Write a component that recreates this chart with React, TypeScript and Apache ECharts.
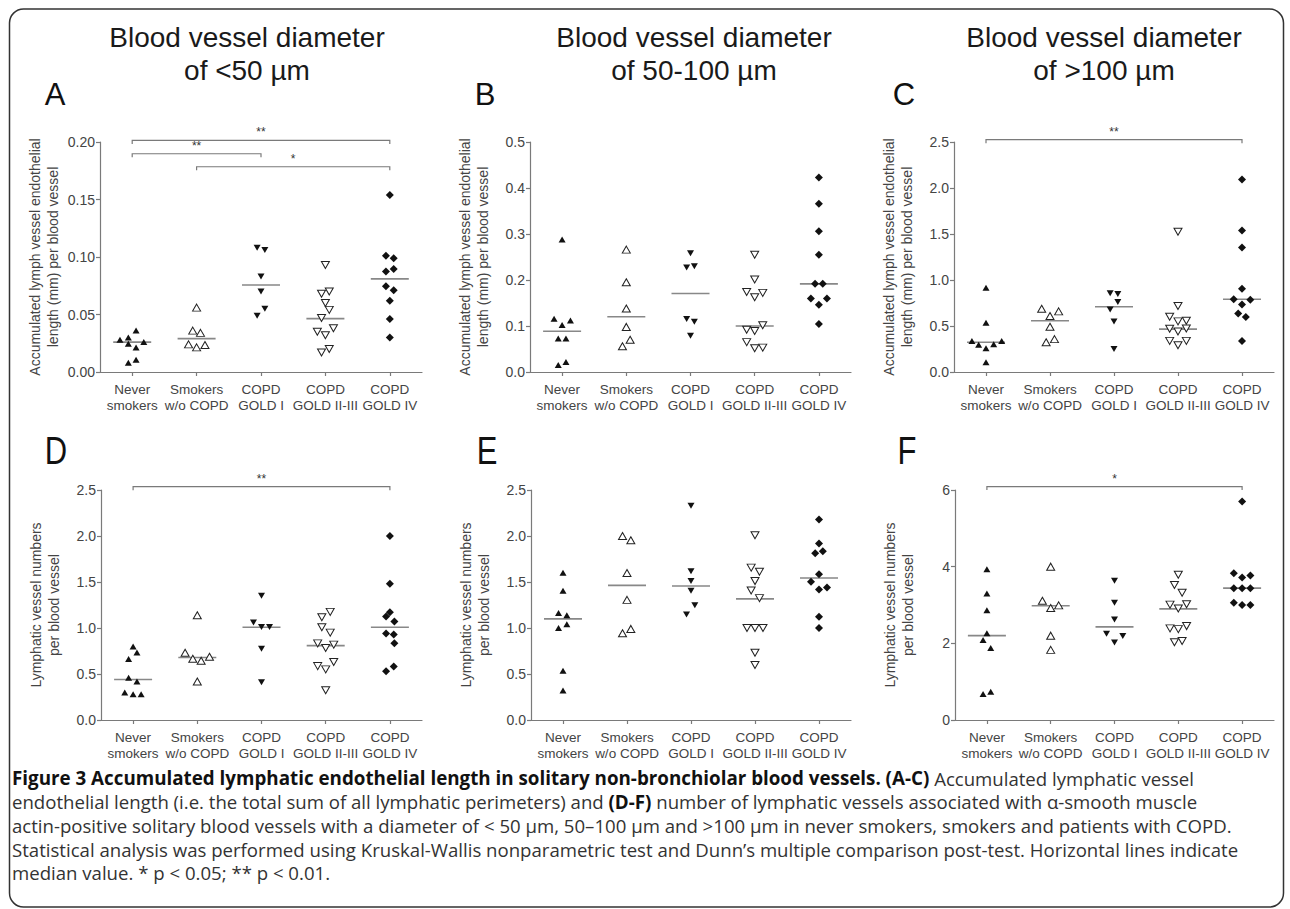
import React, { useEffect, useRef } from "react";
import * as echarts from "echarts";

// ---------- text ----------
const categories = ["Never\nsmokers", "Smokers\nw/o COPD", "COPD\nGOLD I", "COPD\nGOLD II-III", "COPD\nGOLD IV"];
const titleLine1 = "Blood vessel diameter";
const titleLine2 = ["of <50 µm", "of 50-100 µm", "of >100 µm"];
const panelLetters = ["A", "B", "C", "D", "E", "F"];
const yNameTop = ["Accumulated lymph vessel endothelial", "length (mm) per blood vessel"];
const yNameBottom = ["Lymphatic vessel numbers", "per blood vessel"];

// ---------- Panel A (<50 µm, length) ----------
const aValues = [
  [0.036, 0.030, 0.028, 0.0246, 0.026, 0.0214, 0.008, 0.0107],
  [0.056, 0.036, 0.034, 0.024, 0.0214, 0.0235],
  [0.108, 0.106, 0.083, 0.070, 0.055, 0.049],
  [0.093, 0.068, 0.070, 0.060, 0.054, 0.047, 0.035, 0.032, 0.038, 0.017, 0.020],
  [0.154, 0.101, 0.099, 0.0875, 0.0896, 0.0745, 0.071, 0.062, 0.046, 0.030],
];
const aJitter = [
  [0.06, -0.06, -0.19, -0.06, 0.18, 0.06, -0.06, 0.06],
  [0, -0.06, 0.06, -0.125, 0, 0.13],
  [-0.06, 0.06, 0, 0, 0.06, -0.06],
  [0, -0.06, 0.06, 0, 0.06, -0.06, -0.125, 0, 0.125, -0.06, 0.06],
  [0, -0.06, 0.06, -0.06, 0.06, -0.06, 0.06, 0, 0, 0],
];
const aMedians = [0.026, 0.029, 0.0757, 0.0464, 0.081];
const aBrackets = [[0, 4, 0.2014], [0, 2, 0.1898], [1, 4, 0.1785]];
const aStars = ["**", "**", "*"];

// ---------- Panel B (50-100 µm, length) ----------
const bValues = [
  [0.288, 0.116, 0.112, 0.102, 0.073, 0.073, 0.015, 0.022],
  [0.266, 0.195, 0.138, 0.098, 0.070, 0.056],
  [0.258, 0.227, 0.230, 0.115, 0.109, 0.079],
  [0.255, 0.201, 0.174, 0.1625, 0.172, 0.092, 0.089, 0.1016, 0.065, 0.0515, 0.053],
  [0.423, 0.366, 0.306, 0.255, 0.192, 0.192, 0.160, 0.160, 0.146, 0.1045],
];
const bJitter = [
  [0, -0.125, 0.13, 0, -0.06, 0.06, -0.06, 0.06],
  [0, 0, 0, 0, 0.06, -0.06],
  [0, -0.06, 0.06, -0.06, 0.06, 0],
  [0, 0, -0.125, 0, 0.125, -0.125, 0, 0.125, -0.125, 0, 0.125],
  [0, 0, 0, 0, -0.06, 0.06, -0.125, 0.125, 0, 0],
];
const bMedians = [0.0885, 0.12, 0.1705, 0.1, 0.1916];
const bBrackets: number[][] = [];
const bStars: string[] = [];

// ---------- Panel C (>100 µm, length) ----------
const cValues = [
  [0.917, 0.535, 0.338, 0.295, 0.258, 0.302, 0.338, 0.1055],
  [0.688, 0.608, 0.659, 0.491, 0.324, 0.357],
  [0.855, 0.848, 0.76, 0.68, 0.55, 0.251],
  [1.525, 0.717, 0.60, 0.55, 0.557, 0.47, 0.44, 0.473, 0.338, 0.291, 0.338],
  [2.092, 1.539, 1.354, 0.906, 0.79, 0.735, 0.786, 0.637, 0.597, 0.338],
];
const cJitter = [
  [0, 0, -0.22, -0.115, 0, 0.12, 0.245, 0],
  [-0.13, 0, 0.135, 0, -0.06, 0.07],
  [-0.06, 0.06, 0.06, -0.06, 0, 0],
  [0, 0, -0.13, 0, 0.13, -0.13, 0, 0.13, -0.13, 0, 0.13],
  [0, 0, 0, 0, -0.13, 0, 0.13, -0.06, 0.06, 0],
];
const cMedians = [0.324, 0.557, 0.71, 0.466, 0.79];
const cBrackets = [[0, 4, 2.525]];
const cStars = ["**"];

// ---------- Panel D (<50 µm, numbers) ----------
const dValues = [
  [0.80, 0.734, 0.662, 0.459, 0.418, 0.298, 0.28, 0.28],
  [1.139, 0.731, 0.666, 0.644, 0.688, 0.418],
  [1.35, 1.06, 1.01, 1.01, 0.775, 0.411],
  [1.175, 1.117, 1.008, 0.95, 0.833, 0.782, 0.819, 0.586, 0.55, 0.63, 0.324],
  [2.0, 1.48, 1.172, 1.125, 1.07, 0.94, 0.93, 0.833, 0.531, 0.582],
];
const dJitter = [
  [0, 0.06, -0.07, -0.07, 0.06, -0.13, 0, 0.125],
  [0, -0.19, -0.07, 0.06, 0.19, 0],
  [0, -0.125, 0, 0.125, 0, 0],
  [0.07, -0.06, -0.06, 0.07, -0.125, 0, 0.125, -0.125, 0, 0.125, 0],
  [0, 0, 0, -0.06, 0.07, -0.06, 0.06, 0.07, -0.06, 0.06],
];
const dMedians = [0.44, 0.68, 1.008, 0.808, 1.008];
const dBrackets = [[0, 4, 2.536]];
const dStars = ["**"];

// ---------- Panel E (50-100 µm, numbers) ----------
const eValues = [
  [1.601, 1.405, 1.164, 1.139, 1.0, 1.04, 0.535, 0.32],
  [2.0, 1.954, 1.598, 1.306, 0.943, 0.99],
  [2.329, 1.616, 1.51, 1.405, 1.248, 1.146],
  [2.009, 1.656, 1.612, 1.51, 1.408, 1.325, 1.0, 1.0, 1.0, 0.731, 0.597],
  [2.18, 1.918, 1.812, 1.834, 1.583, 1.503, 1.419, 1.441, 1.121, 1.0],
];
const eJitter = [
  [0, 0, -0.07, 0.06, -0.07, 0.06, 0, 0],
  [-0.07, 0.06, 0, 0, -0.07, 0.06],
  [0, 0, 0, 0, 0.06, -0.07],
  [0, -0.06, 0.07, 0, -0.06, 0.07, -0.125, 0, 0.125, 0, 0],
  [0, 0, -0.06, 0.06, 0, -0.125, 0, 0.125, 0, 0],
];
const eMedians = [1.099, 1.463, 1.456, 1.317, 1.543];
const eBrackets: number[][] = [];
const eStars: string[] = [];

// ---------- Panel F (>100 µm, numbers) ----------
const fValues = [
  [3.93, 3.30, 2.86, 2.26, 2.09, 1.88, 0.68, 0.74],
  [4.0, 3.11, 2.92, 2.99, 2.2, 1.83],
  [3.63, 3.06, 2.62, 2.25, 2.19, 2.02],
  [3.79, 3.52, 3.32, 3.01, 2.91, 3.02, 2.39, 2.37, 2.45, 2.03, 2.06],
  [5.7, 3.83, 3.72, 3.77, 3.44, 3.44, 3.44, 3.06, 3.0, 3.0],
];
const fJitter = [
  [0, 0, 0, 0, -0.06, 0.06, -0.06, 0.06],
  [0, -0.13, 0, 0.125, 0, 0],
  [0, 0, 0, -0.125, 0.13, 0],
  [0, -0.06, 0.06, -0.13, 0, 0.13, -0.13, 0, 0.13, -0.06, 0.06],
  [0, -0.13, 0, 0.13, -0.13, 0, 0.13, -0.13, 0, 0.13],
];
const fMedians = [2.2, 2.98, 2.43, 2.9, 3.44];
const fBrackets = [[0, 4, 6.09]];
const fStars = ["*"];

// ---------- axis scales ----------
const yMax = [0.2, 0.5, 2.5, 2.5, 2.5, 6];
const yInterval = [0.05, 0.1, 0.5, 0.5, 0.5, 2];
const yDecimals = [2, 1, 1, 1, 1, 0];

// ---------- caption ----------
const captionLines = [
  "{b|Figure 3 Accumulated lymphatic endothelial length in solitary non-bronchiolar blood vessels. (A-C)}{n| Accumulated lymphatic vessel}",
  "{n|endothelial length (i.e. the total sum of all lymphatic perimeters) and }{b|(D-F)}{n| number of lymphatic vessels associated with α-smooth muscle}",
  "{n|actin-positive solitary blood vessels with a diameter of < 50 µm, 50–100 µm and >100 µm in never smokers, smokers and patients with COPD.}",
  "{n|Statistical analysis was performed using Kruskal-Wallis nonparametric test and Dunn’s multiple comparison post-test. Horizontal lines indicate}",
  "{n|median value. * p < 0.05; ** p < 0.01.}",
];

// ---------- layout (styling only) ----------
const gridBoxes = [
  { left: 100, top: 142, width: 322, height: 230 },
  { left: 530, top: 142, width: 321, height: 230 },
  { left: 954, top: 142, width: 320, height: 230 },
  { left: 101, top: 490, width: 321, height: 230 },
  { left: 531, top: 490, width: 320, height: 230 },
  { left: 955, top: 490, width: 319, height: 230 },
];
const titleCenters = [247, 694, 1104];
const letterPos = [
  [55, 94], [485, 94], [904, 94],
  [56, 451], [487, 451], [907, 451],
];

const FONT = "Liberation Sans, Arial, Helvetica, sans-serif";
const CAPFONT = "Open Sans, Noto Sans, sans-serif";
const AXIS = "#7a7a7a";
const LABEL = "#444";

const groupStyles = [
  { symbol: "triangle", rotate: 0, fill: "#111", stroke: "#111", size: [7, 6], bw: 0 },
  { symbol: "triangle", rotate: 0, fill: "#fff", stroke: "#222", size: [8, 7], bw: 1 },
  { symbol: "triangle", rotate: 180, fill: "#111", stroke: "#111", size: [7, 6], bw: 0 },
  { symbol: "triangle", rotate: 180, fill: "#fff", stroke: "#222", size: [8, 7], bw: 1 },
  { symbol: "diamond", rotate: 0, fill: "#111", stroke: "#111", size: [8, 8], bw: 0 },
];

const panels = [
  { values: aValues, jitter: aJitter, medians: aMedians, brackets: aBrackets, stars: aStars, name: yNameTop },
  { values: bValues, jitter: bJitter, medians: bMedians, brackets: bBrackets, stars: bStars, name: yNameTop },
  { values: cValues, jitter: cJitter, medians: cMedians, brackets: cBrackets, stars: cStars, name: yNameTop },
  { values: dValues, jitter: dJitter, medians: dMedians, brackets: dBrackets, stars: dStars, name: yNameBottom },
  { values: eValues, jitter: eJitter, medians: eMedians, brackets: eBrackets, stars: eStars, name: yNameBottom },
  { values: fValues, jitter: fJitter, medians: fMedians, brackets: fBrackets, stars: fStars, name: yNameBottom },
];

function buildOption() {
  const grid: any[] = [];
  const xAxis: any[] = [];
  const yAxis: any[] = [];
  const series: any[] = [];
  const graphic: any[] = [];

  panels.forEach((p, i) => {
    const box = gridBoxes[i];
    grid.push({ ...box });
    xAxis.push({
      type: "category",
      gridIndex: i,
      data: categories,
      axisLine: { show: true, lineStyle: { color: AXIS, width: 1.2 } },
      axisTick: { show: true, alignWithLabel: true, length: 4, lineStyle: { color: AXIS, width: 1.2 } },
      axisLabel: { interval: 0, fontSize: 13.5, color: LABEL, margin: 9, lineHeight: 16, fontFamily: FONT },
      splitLine: { show: false },
    });
    xAxis.push({ type: "value", gridIndex: i, min: -0.5, max: 4.5, show: false });
    yAxis.push({
      type: "value",
      gridIndex: i,
      min: 0,
      max: yMax[i],
      interval: yInterval[i],
      axisLine: { show: true, onZero: false, lineStyle: { color: AXIS, width: 1.2 } },
      axisTick: { show: true, length: 4, lineStyle: { color: AXIS, width: 1.2 } },
      axisLabel: {
        fontSize: 14,
        color: LABEL,
        margin: 5,
        fontFamily: FONT,
        formatter: (v: number) => v.toFixed(yDecimals[i]),
      },
      splitLine: { show: false },
    });

    // y-axis titles (two rotated lines)
    const cy = box.top + box.height / 2;
    [-65.5, -47].forEach((dx, li) => {
      graphic.push({
        type: "text",
        x: box.left + dx,
        y: cy,
        rotation: Math.PI / 2,
        silent: true,
        style: { text: p.name[li], fontSize: 14, fontFamily: FONT, fill: LABEL, align: "center", verticalAlign: "middle" },
      });
    });

    p.values.forEach((vals, g) => {
      const st = groupStyles[g];
      series.push({
        type: "scatter",
        xAxisIndex: 2 * i + 1,
        yAxisIndex: i,
        silent: true,
        symbol: st.symbol,
        symbolRotate: st.rotate,
        symbolSize: st.size,
        itemStyle: { color: st.fill, borderColor: st.stroke, borderWidth: st.bw, opacity: 1 },
        data: vals.map((v, k) => [g + p.jitter[g][k], v]),
        z: 3,
      });
    });

    series.push({
      type: "scatter",
      xAxisIndex: 2 * i + 1,
      yAxisIndex: i,
      silent: true,
      symbol: "rect",
      symbolSize: [38, 1.6],
      itemStyle: { color: "#6a6a6a" },
      data: p.medians.map((m, g) => [g, m]),
      z: 2,
    });

    if (p.brackets.length) {
      const stars = p.stars;
      series.push({
        type: "custom",
        xAxisIndex: 2 * i + 1,
        yAxisIndex: i,
        silent: true,
        clip: false,
        encode: { x: [0, 1], y: 2 },
        data: p.brackets,
        renderItem: (params: any, api: any) => {
          const a = api.coord([api.value(0), api.value(2)]);
          const b = api.coord([api.value(1), api.value(2)]);
          const h = 3.5;
          return {
            type: "group",
            children: [
              {
                type: "polyline",
                shape: { points: [[a[0], a[1] + h], [a[0], a[1]], [b[0], b[1]], [b[0], b[1] + h]] },
                style: { stroke: AXIS, fill: null, lineWidth: 1.2 },
              },
              {
                type: "text",
                x: (a[0] + b[0]) / 2,
                y: a[1] - 2,
                style: {
                  text: stars[params.dataIndex],
                  fontSize: 12,
                  fontFamily: FONT,
                  fill: "#333",
                  align: "center",
                  verticalAlign: "bottom",
                },
              },
            ],
          };
        },
      });
    }
  });

  graphic.push({
    type: "rect",
    shape: { x: 9.5, y: 9, width: 1274, height: 898, r: 14 },
    style: { fill: "none", stroke: "#333", lineWidth: 1.5 },
    silent: true,
  });
  titleCenters.forEach((cx, k) => {
    graphic.push({
      type: "text",
      x: cx,
      y: 37,
      style: { text: titleLine1, fontSize: 28, fontFamily: FONT, fill: "#1a1a1a", align: "center", verticalAlign: "middle" },
    });
    graphic.push({
      type: "text",
      x: cx,
      y: 70,
      style: { text: titleLine2[k], fontSize: 28, fontFamily: FONT, fill: "#1a1a1a", align: "center", verticalAlign: "middle" },
    });
  });
  panelLetters.forEach((l, k) => {
    graphic.push({
      type: "text",
      x: letterPos[k][0],
      y: letterPos[k][1],
      scaleY: k < 3 ? 1 : 1.27,
      style: { text: l, fontSize: 31, fontFamily: FONT, fill: "#111", align: "center", verticalAlign: "middle" },
    });
  });
  captionLines.forEach((line, k) => {
    graphic.push({
      type: "text",
      x: 12,
      y: 778 + k * 23.7,
      style: {
        text: line,
        align: "left",
        verticalAlign: "middle",
        rich: {
          b: { fontFamily: CAPFONT, fontSize: 18.8, fontWeight: "bold", fill: "#111" },
          n: { fontFamily: CAPFONT, fontSize: 18.6, fill: "#333" },
        },
      },
    });
  });

  return {
    animation: false,
    backgroundColor: "#ffffff",
    textStyle: { fontFamily: FONT },
    grid,
    xAxis,
    yAxis,
    series,
    graphic,
  };
}

export default function App() {
  const ref = useRef<HTMLDivElement | null>(null);
  useEffect(() => {
    if (!ref.current) return;
    const chart = echarts.init(ref.current, null, { renderer: "svg" });
    chart.setOption(buildOption() as any);
    return () => chart.dispose();
  }, []);
  return (
    <div
      ref={ref}
      style={{ position: "fixed", left: 0, top: 0, width: 1290, height: 909, background: "#fff" }}
    />
  );
}
